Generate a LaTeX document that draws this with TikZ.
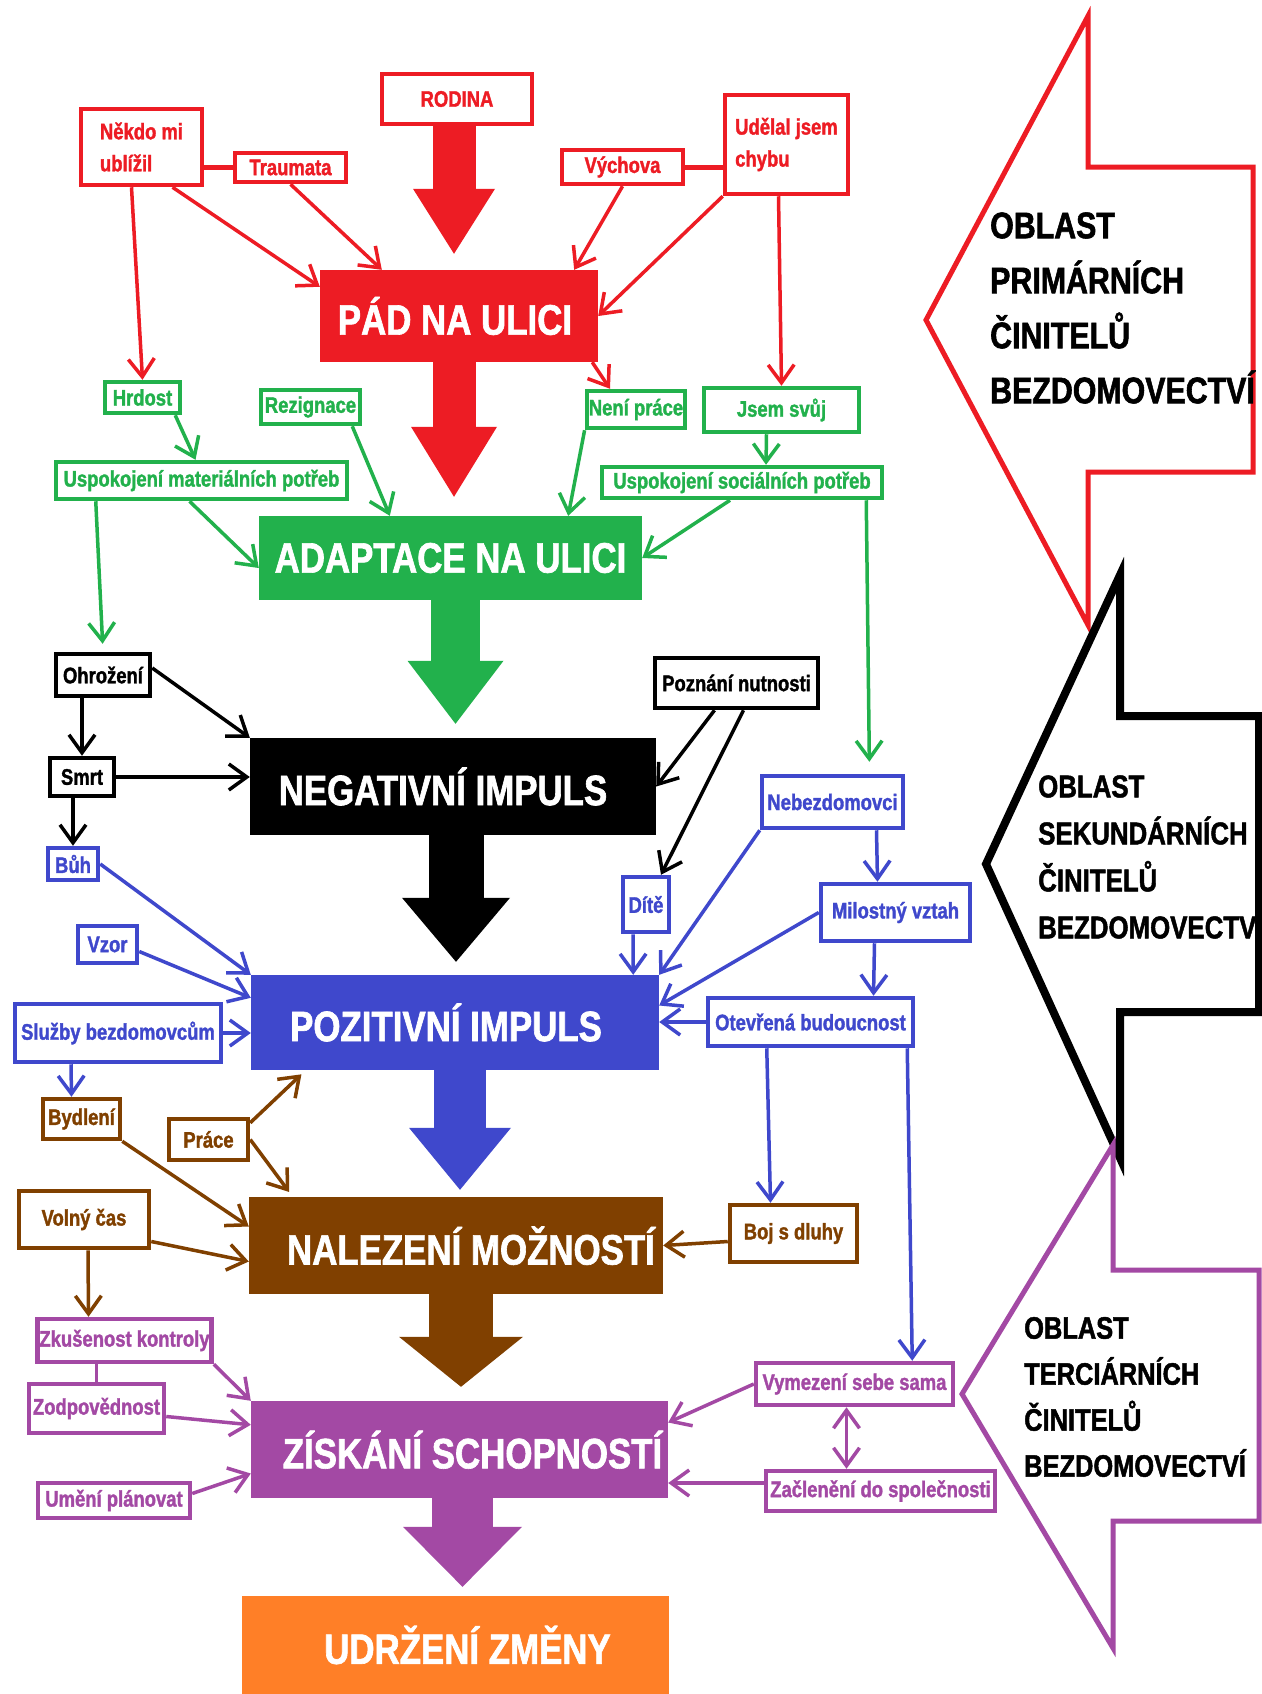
\documentclass[tikz,border=0pt]{standalone}
\usepackage{fontspec}
\setmainfont[FakeStretch=0.82,BoldFeatures={FakeBold=1.5}]{Liberation Sans}
\usetikzlibrary{arrows.meta}
\definecolor{pred}{RGB}{237,28,36}
\definecolor{pgreen}{RGB}{34,177,76}
\definecolor{pblue}{RGB}{63,72,204}
\definecolor{pbrown}{RGB}{128,64,0}
\definecolor{ppurple}{RGB}{163,73,164}
\definecolor{porange}{RGB}{255,127,39}

\begin{document}
\begin{tikzpicture}[x=1pt,y=-1pt,
  >={Straight Barb[length=18pt,width=26pt]},
  box/.style={draw=#1,text=#1,line width=4.5pt,inner sep=2pt,align=left,
    font=\fontsize{22.5}{32}\selectfont\bfseries},
  big/.style={fill=#1,text=white,inner sep=0pt,font=\fontsize{42.5}{50}\selectfont\bfseries},
  link/.style={draw=#1,line width=3.5pt,->},
  flow/.style n args={4}{draw=#1,line width=#2,-{Triangle[width=#3,length=#4,line width=0pt]}},
  zone/.style={draw=#1,line width=6pt,line join=miter},
  zonetext/.style={anchor=west,align=left,text=black,inner sep=0pt}]
 \path [use as bounding box, fill=white] (0,0) rectangle (1261,1694);

 \draw [zone=pred, line width=5pt] (926,320) -- (1088,16) -- (1088,167) -- (1253,167) -- (1253,472) -- (1088,472) -- (1088,625) -- cycle;
 \draw [zone=black, line width=8pt] (986,864) -- (1120,575) -- (1120,716) -- (1259,716) -- (1259,1012) -- (1120,1012) -- (1120,1158) -- cycle;
 \draw [zone=ppurple, line width=5pt] (962,1394) -- (1113,1145) -- (1113,1270) -- (1259,1270) -- (1259,1521) -- (1113,1521) -- (1113,1648) -- cycle;
 \node [zonetext, font=\fontsize{37}{55}\selectfont\bfseries] (primar) at (990,308) {OBLAST\\PRIMÁRNÍCH\\ČINITELŮ\\BEZDOMOVECTVÍ};
 \node [zonetext, font=\fontsize{31.5}{47}\selectfont\bfseries] (sekund) at (1038,857) {OBLAST\\SEKUNDÁRNÍCH\\ČINITELŮ\\BEZDOMOVECTVÍ};
 \node [zonetext, font=\fontsize{31}{46}\selectfont\bfseries] (tercier) at (1024,1397) {OBLAST\\TERCIÁRNÍCH\\ČINITELŮ\\BEZDOMOVECTVÍ};

 \node [box=pred, minimum width=121, minimum height=76] (nekdo) at (141.5,147) {Někdo mi\\ublížil};
 \node [box=pred, minimum width=111, minimum height=29] (trauma) at (290.5,167.5) {Traumata};
 \node [box=pred, minimum width=150, minimum height=50] (rodina) at (457,99) {RODINA};
 \node [box=pred, minimum width=121, minimum height=34] (vychova) at (622.5,167) {Výchova};
 \node [box=pred, minimum width=123, minimum height=99] (udelal) at (786.5,144.5) {Udělal jsem\\chybu};
 \node [big=pred, minimum width=278, minimum height=92] (pad) at (459,316) {PÁD NA ULICI\hspace*{8pt}};

 \node [box=pgreen, minimum width=75, minimum height=31] (hrdost) at (142.5,397.5) {Hrdost};
 \node [box=pgreen, minimum width=99, minimum height=34] (rezig) at (310.5,407) {Rezignace};
 \node [box=pgreen, minimum width=96, minimum height=37] (neniprace) at (636,409.5) {Není práce};
 \node [box=pgreen, minimum width=155, minimum height=44] (jsemsvuj) at (781.5,410) {Jsem svůj};
 \node [box=pgreen, minimum width=291, minimum height=37] (uspmat) at (201.5,480.5) {Uspokojení materiálních potřeb};
 \node [box=pgreen, minimum width=280, minimum height=31] (uspsoc) at (742,482.5) {Uspokojení sociálních potřeb};
 \node [big=pgreen, minimum width=383, minimum height=84] (adapt) at (450.5,558) {ADAPTACE NA ULICI};

 \node [box=black, minimum width=94, minimum height=42] (ohroz) at (103,675) {Ohrožení};
 \node [box=black, minimum width=64, minimum height=38] (smrt) at (82,777) {Smrt};
 \node [box=black, minimum width=163, minimum height=50] (poznani) at (736.5,683) {Poznání nutnosti};
 \node [big=black, minimum width=406, minimum height=97] (neg) at (453,786.5) {NEGATIVNÍ IMPULS\hspace*{20pt}};

 \node [box=pblue, minimum width=50, minimum height=32] (buh) at (73,864) {Bůh};
 \node [box=pblue, minimum width=59, minimum height=37] (vzor) at (107.5,944.5) {Vzor};
 \node [box=pblue, minimum width=206, minimum height=58] (sluzby) at (118,1033) {Služby bezdomovcům};
 \node [box=pblue, minimum width=46, minimum height=55] (dite) at (646,904.5) {Dítě};
 \node [box=pblue, minimum width=141, minimum height=52] (nebezd) at (832.5,802) {Nebezdomovci};
 \node [box=pblue, minimum width=149, minimum height=57] (milost) at (895.5,912.5) {Milostný vztah};
 \node [box=pblue, minimum width=205, minimum height=48] (otevr) at (810.5,1022) {Otevřená budoucnost};
 \node [big=pblue, minimum width=408, minimum height=95] (poz) at (455,1022.5) {POZITIVNÍ IMPULS\hspace*{18pt}};

 \node [box=pbrown, minimum width=77, minimum height=40] (bydleni) at (81.5,1119) {Bydlení};
 \node [box=pbrown, minimum width=79, minimum height=41] (prace) at (208.5,1139.5) {Práce};
 \node [box=pbrown, minimum width=130, minimum height=57] (volny) at (84,1219.5) {Volný čas};
 \node [box=pbrown, minimum width=127, minimum height=57] (boj) at (793.5,1233.5) {Boj s dluhy};
 \node [big=pbrown, minimum width=414, minimum height=97, text depth=0pt] (nalez) at (456,1245.5) {\hspace*{30pt}NALEZENÍ MOŽNOSTÍ};

 \node [box=ppurple, minimum width=171, minimum height=43] (zkus) at (124.5,1340.5) {Zkušenost kontroly};
 \node [box=ppurple, minimum width=135, minimum height=49] (zodp) at (96.5,1408.5) {Zodpovědnost};
 \node [box=ppurple, minimum width=152, minimum height=35] (umeni) at (114,1500.5) {Umění plánovat};
 \node [box=ppurple, minimum width=197, minimum height=42] (vymez) at (854.5,1384) {Vymezení sebe sama};
 \node [box=ppurple, minimum width=229, minimum height=40] (zacl) at (880.5,1491) {Začlenění do společnosti};
 \node [big=ppurple, minimum width=417, minimum height=97, text depth=0pt] (ziskani) at (459.5,1449.5) {\hspace*{26pt}ZÍSKÁNÍ SCHOPNOSTÍ};

 \node [big=porange, minimum width=427, minimum height=98] (udrzeni) at (455.5,1645) {\hspace*{24pt}UDRŽENÍ ZMĚNY};

 \draw [flow={pred}{43pt}{82pt}{65pt}, shorten >=16pt] ([xshift=-3]rodina.south) -- ([xshift=-3]rodina.south |- pad.north);
 \draw [flow={pred}{43pt}{86pt}{70pt}, shorten >=19pt] ([xshift=-5]pad.south) -- ([xshift=-5]pad.south |- adapt.north);
 \draw [flow={pgreen}{49pt}{96pt}{63pt}, shorten >=14pt] ([xshift=5]adapt.south) -- ([xshift=5]adapt.south |- neg.north);
 \draw [flow={black}{55pt}{108pt}{64pt}, shorten >=13pt] ([xshift=3]neg.south) -- ([xshift=3]neg.south |- poz.north);
 \draw [flow={pblue}{52pt}{102pt}{62pt}, shorten >=7pt] ([xshift=5]poz.south) -- ([xshift=5]poz.south |- nalez.north);
 \draw [flow={pbrown}{64pt}{124pt}{50pt}, shorten >=14pt] ([xshift=5]nalez.south) -- ([xshift=5]nalez.south |- ziskani.north);
 \draw [flow={ppurple}{61pt}{119pt}{60pt}, shorten >=9pt] ([xshift=3]ziskani.south) -- ([xshift=3]ziskani.south |- udrzeni.north);

 \draw [pred, line width=5pt] (trauma.west -| nekdo.east) -- (trauma.west);
 \draw [pred, line width=5pt] (vychova.east) -- (vychova.east -| udelal.west);
 \draw [link=pred] ([xshift=31]nekdo.south) -- ([yshift=-17]pad.north west);
 \draw [link=pred] (trauma.south) -- ([xshift=62]pad.north west);
 \draw [link=pred] (vychova.south) -- ([xshift=-24]pad.north east);
 \draw [link=pred] (udelal.south west) -- (pad.east);
 \draw [link=pred] ([xshift=-10]nekdo.south) -- (hrdost.north);
 \draw [link=pred] ([xshift=-8]udelal.south) -- (jsemsvuj.north);
 \draw [link=pred] ([xshift=-6]pad.south east) -- ([xshift=-26]neniprace.north);

 \draw [link=pgreen] ([xshift=-7]hrdost.south east) -- ([xshift=-6]uspmat.north);
 \draw [link=pgreen] ([xshift=-15]jsemsvuj.south) -- ([xshift=24]uspsoc.north);
 \draw [link=pgreen] ([xshift=-10]rezig.south east) -- ([xshift=131]adapt.north west);
 \draw [link=pgreen] (neniprace.south west) -- ([xshift=-74]adapt.north east);
 \draw [link=pgreen] ([xshift=-12]uspmat.south) -- ([yshift=-10]adapt.west);
 \draw [link=pgreen] ([xshift=-12]uspsoc.south) -- (adapt.east);
 \draw [link=pgreen, shorten >=8pt] ([xshift=42]uspmat.south west) -- (ohroz.north);
 \draw [link=pgreen, shorten >=12pt] ([xshift=-18]uspsoc.south east) -- ([xshift=37]nebezd.north);

 \draw [link=black] ([yshift=7]ohroz.east) -- (neg.north west);
 \draw [link=black] (smrt.north |- ohroz.south) -- (smrt.north);
 \draw [link=black] (smrt.east) -- (smrt.east -| neg.west);
 \draw [link=black] (buh.north |- smrt.south) -- (buh.north);
 \draw [link=black] ([xshift=-22]poznani.south) -- (neg.east);
 \draw [link=black] ([xshift=7]poznani.south) -- ([xshift=15]dite.north);

 \draw [link=pblue] (buh.east) -- (poz.north west);
 \draw [link=pblue] ([yshift=-7]vzor.east) -- ([yshift=-23]poz.north west);
 \draw [link=pblue] (sluzby.east) -- (sluzby.east -| poz.west);
 \draw [link=pblue] ([xshift=-47]sluzby.south) -- ([xshift=-10]bydleni.north);
 \draw [link=pblue] ([xshift=-13]dite.south) -- ([xshift=-26]poz.north east);
 \draw [link=pblue] (nebezd.south west) -- (poz.north east);
 \draw [link=pblue] ([xshift=44]nebezd.south) -- ([xshift=-18]milost.north);
 \draw [link=pblue] (milost.west) -- ([yshift=17]poz.east);
 \draw [link=pblue] ([xshift=-21]milost.south) -- ([xshift=63]otevr.north);
 \draw [link=pblue] (otevr.west) -- (otevr.west -| poz.east);
 \draw [link=pblue] ([xshift=61]otevr.south west) -- ([xshift=-23]boj.north);
 \draw [link=pblue] ([xshift=-8]otevr.south east) -- ([xshift=-43]vymez.north east);

 \draw [link=pbrown, shorten >=6pt] ([yshift=-6]prace.north east) -- ([xshift=55]poz.south west);
 \draw [link=pbrown, shorten >=6pt] (prace.east) -- ([xshift=44]nalez.north west);
 \draw [link=pbrown] (bydleni.south east) -- ([yshift=19]nalez.west);
 \draw [link=pbrown] ([yshift=-22]volny.east) -- ([yshift=-16]nalez.west);
 \draw [link=pbrown] ([xshift=4]volny.south) -- ([xshift=-36]zkus.north);
 \draw [link=pbrown] ([yshift=-8]boj.west) -- (nalez.east);

 \draw [ppurple, line width=3.5pt] (zodp.north |- zkus.south) -- (zodp.north);
 \draw [link=ppurple] (zkus.south east) -- (ziskani.north west);
 \draw [link=ppurple] ([yshift=-8]zodp.east) -- ([yshift=-24]ziskani.north west);
 \draw [link=ppurple] ([yshift=7]umeni.east) -- ([yshift=-24]ziskani.west);
 \draw [link=ppurple] (vymez.west) -- ([yshift=27]ziskani.east);
 \draw [link=ppurple] ([yshift=8]zacl.west) -- ([yshift=8]zacl.west -| ziskani.east);
 \draw [link=ppurple, <->] ([xshift=-8]vymez.south) -- ([xshift=-8]vymez.south |- zacl.north);
\end{tikzpicture}
\end{document}
